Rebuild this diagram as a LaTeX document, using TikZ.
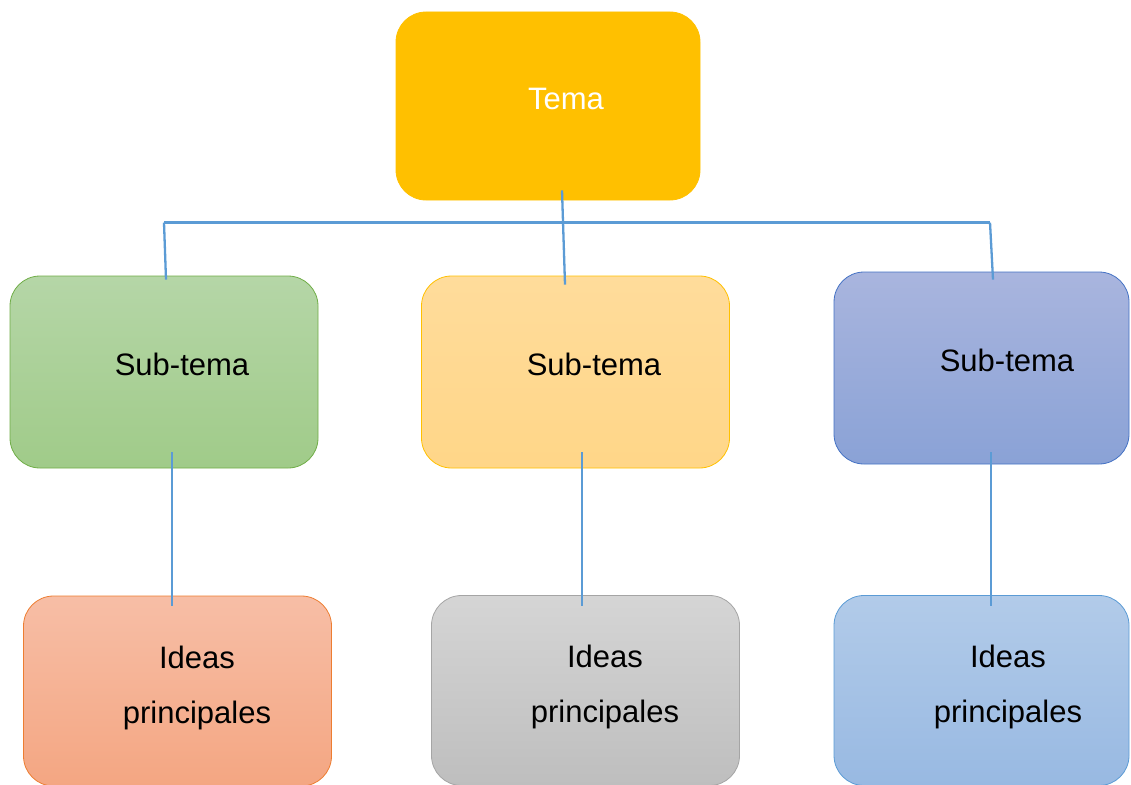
\documentclass[tikz,border=0pt]{standalone}
\usepackage{fontspec}
\setmainfont{Liberation Sans}
\usetikzlibrary{calc}
\definecolor{gold}{HTML}{FFC000}
\definecolor{linkblue}{HTML}{5B9BD5}
\definecolor{greenline}{HTML}{70AD47}
\definecolor{greentop}{HTML}{B5D6A7}
\definecolor{greenbot}{HTML}{A0CB89}
\definecolor{goldline}{HTML}{FFC000}
\definecolor{goldtop}{HTML}{FFDC9B}
\definecolor{goldbot}{HTML}{FFD688}
\definecolor{blueline}{HTML}{4472C4}
\definecolor{bluetop}{HTML}{A9B5DE}
\definecolor{bluebot}{HTML}{8AA2D6}
\definecolor{orangeline}{HTML}{ED7D31}
\definecolor{orangetop}{HTML}{F7BEA6}
\definecolor{orangebot}{HTML}{F4A682}
\definecolor{grayline}{HTML}{A5A5A5}
\definecolor{graytop}{HTML}{D5D5D5}
\definecolor{graybot}{HTML}{BEBEBE}
\definecolor{skyline}{HTML}{5B9BD5}
\definecolor{skytop}{HTML}{B2CBE9}
\definecolor{skybot}{HTML}{98B9E2}
\tikzstyle{box}=[draw, rounded corners=30pt, inner sep=0pt, line width=0.8pt, minimum height=190pt]
\tikzstyle{wide box}=[box, minimum width=308pt]
\tikzstyle{edge box}=[box, minimum width=295pt]
\tikzstyle{label text}=[inner sep=0pt, font=\fontsize{31}{55}\selectfont, align=center]
\tikzstyle{link}=[draw=linkblue, line width=2.3pt]
\begin{document}
\begin{tikzpicture}[x=1pt, y=-1pt]
  \useasboundingbox (0,0) rectangle (1131,784);
  % top
  \node[box, minimum width=304pt, minimum height=188pt, fill=gold, draw=gold] (tema) at (548,106) {};
  \node[label text, text=white] (tematext) at ($(tema.center)+(18,-7.5)$) {Tema};
  % sub-temas
  \node[wide box, minimum height=192pt, draw=greenline, top color=greentop, bottom color=greenbot] (sub1) at (164,372) {};
  \node[wide box, minimum height=192pt, draw=goldline, top color=goldtop, bottom color=goldbot] (sub2) at (575.5,372) {};
  \node[edge box, minimum height=192pt, draw=blueline, top color=bluetop, bottom color=bluebot] (sub3) at (981.5,368) {};
  \node[label text] (sub1text) at ($(sub1.center)+(18,-8)$) {Sub-tema};
  \node[label text] (sub2text) at ($(sub2.center)+(18.5,-8)$) {Sub-tema};
  \node[label text] (sub3text) at ($(sub3.center)+(25.5,-8)$) {Sub-tema};
  % ideas
  \node[wide box, draw=orangeline, top color=orangetop, bottom color=orangebot] (idea1) at (177.5,691) {};
  \node[wide box, draw=grayline, top color=graytop, bottom color=graybot] (idea2) at (585.5,690.5) {};
  \node[edge box, draw=skyline, top color=skytop, bottom color=skybot] (idea3) at (981.5,690.5) {};
  \node[label text] (idea1text) at ($(idea1.center)+(19.5,-3.5)$) {Ideas\\principales};
  \node[label text] (idea2text) at ($(idea2.center)+(19.5,-3.5)$) {Ideas\\principales};
  \node[label text] (idea3text) at ($(idea3.center)+(26.5,-3.5)$) {Ideas\\principales};
  % links
  \coordinate (busL) at ($(sub1.north)+(0,-53)$);
  \coordinate (busR) at ($(sub3.north)+(8.5,-49)$);
  \draw[link] ($(tema.south)+(14,-10)$) -- ($(sub2.north)+(-10.5,9)$);
  \draw[link] (busL) -- (busR);
  \draw[link] (busL) -- ($(sub1.north)+(2,4)$);
  \draw[link] (busR) -- ($(sub3.north)+(11.5,8)$);
  \draw[link] ($(sub1.south)+(8,-16)$) -- ($(idea1.north)+(-5.5,10)$);
  \draw[link] ($(sub2.south)+(6.5,-16)$) -- ($(idea2.north)+(-3.5,11)$);
  \draw[link] ($(sub3.south)+(9.5,-12)$) -- ($(idea3.north)+(9.5,11)$);
\end{tikzpicture}
\end{document}
